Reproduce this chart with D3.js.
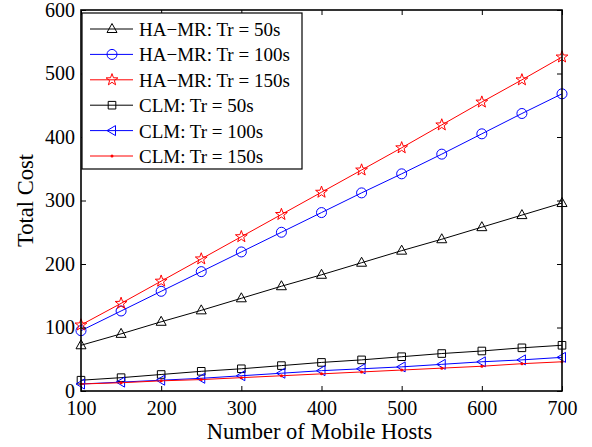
<!DOCTYPE html>
<html>
<head>
<meta charset="utf-8">
<script src="https://cdn.jsdelivr.net/npm/d3@7"></script>
<style>
html,body{margin:0;padding:0;background:#fff;}
svg{display:block;}
svg text{font-family:"Liberation Serif","Times New Roman",serif;}
</style>
</head>
<body>
<svg id="chart" width="592" height="447"></svg>
<script>
const hosts = [100,150,200,250,300,350,400,450,500,550,600,650,700];
const hamr50  = [72, 90, 109, 127, 146, 165, 183, 202, 221, 239, 258, 277, 296];
const hamr100 = [95, 126, 157, 188, 219, 250, 281, 312, 342, 373, 405, 437, 468];
const hamr150 = [104, 138, 173, 208, 243, 278, 313, 348, 383, 419, 455, 490, 526];
const clm50   = [17, 21, 26, 31, 35, 40, 45, 49, 54, 59, 63, 68, 72];
const clm100  = [11, 14, 17, 20, 24, 28, 32, 35, 38, 42, 46, 49, 53];
const clm150  = [11, 13, 16, 18, 21, 24, 27, 30, 33, 36, 39, 43, 46];
const seriesNames = ["HA\u2212MR: Tr = 50s","HA\u2212MR: Tr = 100s","HA\u2212MR: Tr = 150s","CLM: Tr = 50s","CLM: Tr = 100s","CLM: Tr = 150s"];
const xTicks = [100,200,300,400,500,600,700];
const yTicks = [0,100,200,300,400,500,600];
const xLabel = "Number of Mobile Hosts";
const yLabel = "Total Cost";

const series = [
  {name: seriesNames[0], values: hamr50,  color: "#000000", marker: "triUp"},
  {name: seriesNames[1], values: hamr100, color: "#0000ff", marker: "circle"},
  {name: seriesNames[2], values: hamr150, color: "#ff0000", marker: "star"},
  {name: seriesNames[3], values: clm50,   color: "#000000", marker: "square"},
  {name: seriesNames[4], values: clm100,  color: "#0000ff", marker: "triLeft"},
  {name: seriesNames[5], values: clm150,  color: "#ff0000", marker: "dot"}
];

const FONT = "Liberation Serif, Times New Roman, serif";
const W = 592, H = 447;
const m = {left: 81, right: 30, top: 10, bottom: 56};
const svg = d3.select("#chart");
const x = d3.scaleLinear().domain([100,700]).range([m.left, W - m.right]);
const y = d3.scaleLinear().domain([0,600]).range([H - m.bottom, m.top]);

function starPath(R, r) {
  const pts = [];
  for (let i = 0; i < 10; i++) {
    const a = -Math.PI/2 + i*Math.PI/5;
    const rad = i % 2 === 0 ? R : r;
    pts.push([rad*Math.cos(a), rad*Math.sin(a)]);
  }
  return "M" + pts.map(p => p[0].toFixed(2)+","+p[1].toFixed(2)).join("L") + "Z";
}
const markerPaths = {
  triUp: "M0,-5.5L5,3.5L-5,3.5Z",
  triLeft: "M-5,0L3.5,-5L3.5,5Z",
  square: "M-3.8,-3.8L3.8,-3.8L3.8,3.8L-3.8,3.8Z",
  star: starPath(6.2, 2.5)
};
function drawMarker(g, type, color) {
  if (type === "circle") {
    g.append("circle").attr("r", 5).attr("fill", "none").attr("stroke", color).attr("stroke-width", 1);
  } else if (type === "dot") {
    g.append("circle").attr("r", 1.5).attr("fill", color).attr("stroke", "none");
  } else {
    g.append("path").attr("d", markerPaths[type]).attr("fill", "none").attr("stroke", color).attr("stroke-width", 1);
  }
}

// data lines
const line = d3.line().x((d,i) => x(hosts[i])).y(d => y(d));
const plot = svg.append("g");
series.forEach(s => {
  plot.append("path").datum(s.values).attr("d", line)
    .attr("fill", "none").attr("stroke", s.color).attr("stroke-width", 1);
  s.values.forEach((v,i) => {
    const g = plot.append("g").attr("transform", `translate(${x(hosts[i])},${y(v)})`);
    drawMarker(g, s.marker, s.color);
  });
});

// axes
const fs = 20;
const xAxis = svg.append("g").attr("transform", `translate(0,${H - m.bottom})`)
  .call(d3.axisBottom(x).tickValues(xTicks).tickSize(-5).tickPadding(10).tickFormat(d3.format("d")));
const xTop = svg.append("g").attr("transform", `translate(0,${m.top})`)
  .call(d3.axisTop(x).tickValues(xTicks).tickSize(-5).tickFormat(""));
const yAxis = svg.append("g").attr("transform", `translate(${m.left},0)`)
  .call(d3.axisLeft(y).tickValues(yTicks).tickSize(-5).tickPadding(6).tickFormat(d3.format("d")));
const yRight = svg.append("g").attr("transform", `translate(${W - m.right},0)`)
  .call(d3.axisRight(y).tickValues(yTicks).tickSize(-5).tickFormat(""));
[xAxis, xTop, yAxis, yRight].forEach(a => {
  a.attr("font-family", FONT);
  a.selectAll(".domain").remove();
  a.selectAll(".tick line").attr("stroke", "#000").attr("stroke-width", 1);
  a.selectAll("text").attr("font-size", fs).attr("fill", "#000").attr("font-family", FONT);
});
svg.append("rect").attr("x", m.left).attr("y", m.top)
  .attr("width", W - m.left - m.right).attr("height", H - m.top - m.bottom)
  .attr("fill", "none").attr("stroke", "#000").attr("stroke-width", 1.6);

// axis titles
svg.append("text").attr("x", (m.left + W - m.right)/2 - 2).attr("y", 439)
  .attr("text-anchor", "middle").attr("font-size", 22.5).attr("font-family", FONT).text(xLabel);
svg.append("text").attr("transform", `translate(33,${(m.top + H - m.bottom)/2}) rotate(-90)`)
  .attr("text-anchor", "middle").attr("font-size", 22.5).attr("font-family", FONT).text(yLabel);

// legend
const lg = svg.append("g");
lg.append("rect").attr("x", 82).attr("y", 13).attr("width", 220).attr("height", 156)
  .attr("fill", "#fff").attr("stroke", "#000").attr("stroke-width", 1.2);
series.forEach((s, i) => {
  const ry = 29 + i*25.4;
  lg.append("line").attr("x1", 90).attr("x2", 133).attr("y1", ry).attr("y2", ry)
    .attr("stroke", s.color).attr("stroke-width", 1);
  const g = lg.append("g").attr("transform", `translate(112,${ry})`);
  drawMarker(g, s.marker, s.color);
  lg.append("text").attr("x", 139).attr("y", ry + 7).attr("font-size", 19)
    .attr("font-family", FONT).attr("fill", "#000").text(s.name);
});
</script>
</body>
</html>
